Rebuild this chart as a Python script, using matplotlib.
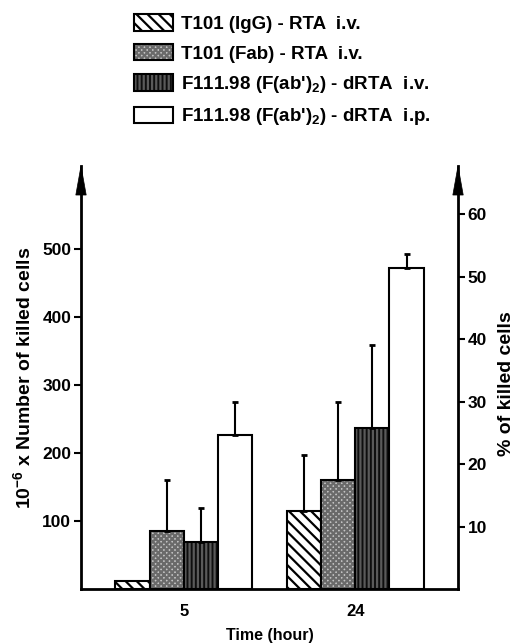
import numpy as np
import matplotlib
matplotlib.use('Agg')
import matplotlib.pyplot as plt
from matplotlib.patches import Polygon
from matplotlib.transforms import ScaledTranslation

plt.rcParams['font.family'] = 'Liberation Sans'
plt.rcParams['font.weight'] = 'bold'
plt.rcParams['mathtext.fontset'] = 'custom'
plt.rcParams['mathtext.rm'] = 'Liberation Sans:bold'
plt.rcParams['mathtext.default'] = 'rm'
plt.rcParams['hatch.linewidth'] = 1.6

# data (left axis units: 10^-6 x number of killed cells)
times = ['5', '24']
series = ["T101 (IgG) - RTA  i.v.",
          "T101 (Fab) - RTA  i.v.",
          "F111.98 (F(ab')$_2$) - dRTA  i.v.",
          "F111.98 (F(ab')$_2$) - dRTA  i.p."]
igg_rta = [12, 115]
fab_rta = [85, 160]
fab2_iv = [69, 237]
fab2_ip = [226, 472]
igg_err = [0, 82]
fab_err = [75, 115]
fab2_iv_err = [50, 122]
fab2_ip_err = [49, 21]

values = [igg_rta, fab_rta, fab2_iv, fab2_ip]
errors = [igg_err, fab_err, fab2_iv_err, fab2_ip_err]

left_ticks = [100, 200, 300, 400, 500]
right_ticks = [10, 20, 30, 40, 50, 60]

fig = plt.figure(figsize=(5.24, 6.43), dpi=100)
ax = fig.add_axes([0.1546, 0.084, 0.7195, 0.6578])
ax2 = ax.twinx()

x = np.arange(len(times))
w = 0.2
offsets = [-1.5 * w, -0.5 * w, 0.5 * w, 1.5 * w]


def layered_bar(xpos, vals, face, hatch, hatch_color):
    # hatch drawn in its own colour, black outline on top
    inner = ax.bar(xpos, vals, w, facecolor=face, edgecolor=hatch_color,
                   hatch=hatch, linewidth=0)
    outer = ax.bar(xpos, vals, w, facecolor='none', edgecolor='black',
                   linewidth=1.5)
    return (inner, outer)


handles = [
    layered_bar(x + offsets[0], igg_rta, 'white', '\\\\\\', 'black'),
    layered_bar(x + offsets[1], fab_rta, '#c4c4c4', 'xxxxxx', '#6a6a6a'),
    layered_bar(x + offsets[2], fab2_iv, '#0e0e0e', '||||', '#5a5a5a'),
    layered_bar(x + offsets[3], fab2_ip, 'white', None, 'black'),
]

for off, vals, errs in zip(offsets, values, errors):
    for xi, v, e in zip(x, vals, errs):
        if e > 0:
            ax.errorbar(xi + off, v, yerr=[[0], [e]], fmt='none', ecolor='black',
                        elinewidth=1.5, capsize=2.5, capthick=2)

ax.set_xlim(-0.6, 1.6)
ax.set_ylim(0, 622)
ax2.set_ylim(0, 67.7)

ax.set_xticks(x)
ax.set_xticklabels(times, fontsize=12, fontweight='bold')
ax.tick_params(axis='x', length=0, pad=11)
ax.set_yticks(left_ticks)
ax.tick_params(axis='y', direction='out', length=5, width=1.5, labelsize=12.5, pad=2)
ax2.set_yticks(right_ticks)
ax2.tick_params(axis='y', direction='out', length=5, width=1.5, labelsize=12.5, pad=2)

for a in (ax, ax2):
    a.spines['top'].set_visible(False)
    for s in ('left', 'right', 'bottom'):
        a.spines[s].set_linewidth(2)
ax.spines['right'].set_visible(False)
ax2.spines['left'].set_visible(False)
ax2.spines['bottom'].set_visible(False)

# arrow heads on top of both vertical axes (sizes in inches)
for xa in (0, 1):
    tr = fig.dpi_scale_trans + ScaledTranslation(xa, 1.0, ax.transAxes)
    head = Polygon([(0, 0), (-0.052, -0.29), (0.052, -0.29)], closed=True,
                   facecolor='black', edgecolor='black', linewidth=0.5,
                   transform=tr, clip_on=False, zorder=5)
    fig.add_artist(head)

ax.set_xlabel('Time (hour)', fontsize=11.5, fontweight='bold', labelpad=6)
ax.set_ylabel('10$^{-6}$ x Number of killed cells', fontsize=14, fontweight='bold',
              labelpad=6)
ax2.set_ylabel('% of killed cells', fontsize=14, fontweight='bold', labelpad=8)
ax2.yaxis.label.set_y(0.485)

fig.legend(handles, series, loc='upper left', bbox_to_anchor=(0.23, 0.998),
           frameon=False, fontsize=13.5, handlelength=2.1, handleheight=0.95,
           labelspacing=0.6, handletextpad=0.4, borderpad=0.2)

fig.savefig('out.png', dpi=100)
